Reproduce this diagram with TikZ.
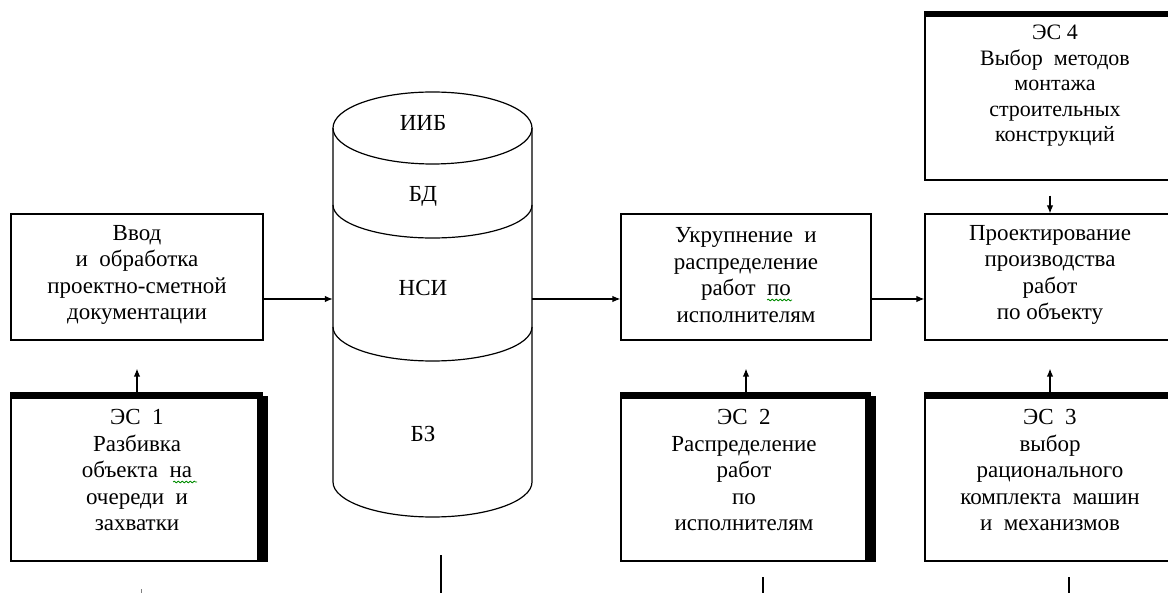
\documentclass[tikz,border=0pt]{standalone}
\usepackage{fontspec}
\setmainfont{Liberation Serif}
\usetikzlibrary{arrows.meta,decorations.pathmorphing}

\tikzset{
  box/.style={draw, line width=1.2pt, rectangle, inner sep=0pt},
  ghost/.style={rectangle, inner sep=0pt},
  txt/.style={align=center, inner sep=0pt, font=\fontsize{23}{26.5}\selectfont},
  lbl/.style={inner sep=0pt, font=\fontsize{23}{26}\selectfont},
  ln/.style={line width=1.2pt},
  arr/.style={line width=1.2pt, -{Latex[length=8pt,width=6.5pt]}},
  wavy/.style={draw=green!55!black, line width=0.8pt, decorate,
    decoration={snake, amplitude=0.9pt, segment length=4pt}},
}

\begin{document}
\begin{tikzpicture}[x=1pt,y=-1pt]
\useasboundingbox (0,0) rectangle (1168,593);
\fill[white] (0,0) rectangle (1168,593);
\clip (0,0) rectangle (1168,593);

% ---- process boxes ----
\node[box, minimum width=252pt, minimum height=126pt] (vvod) at (137,277) {};
\node[box, minimum width=250pt, minimum height=126pt] (ukr)  at (746,277) {};
\node[box, minimum width=250pt, minimum height=126pt] (proj) at (1050,277) {};

% ---- expert systems ----
\node[box, minimum width=247pt, minimum height=168pt] (es1) at (134.5,477) {};
\node[box, minimum width=245pt, minimum height=168pt] (es2) at (743.5,477) {};
\node[box, minimum width=245pt, minimum height=168pt] (es3) at (1047.5,477) {};
\node[box, minimum width=245pt, minimum height=168pt] (es4) at (1047.5,96) {};

% heavy top and right edges of the expert-system boxes
\foreach \e in {es1,es2,es3}{
  \fill (\e.north west) rectangle ([xshift=4pt,yshift=-7pt]\e.north east);
  \fill ([yshift=-4pt]\e.north east) rectangle ([xshift=9pt]\e.south east);
}
\fill (es4.north west) rectangle ([xshift=4pt,yshift=-6pt]es4.north east);

% ---- database cylinder ----
\node[ghost, minimum width=199pt, minimum height=424pt] (db) at (432.5,305) {};
\draw[ln] (432.5,128) ellipse [x radius=99.5pt, y radius=36pt];
\draw[ln] (333,128) -- (333,482)
  arc[start angle=180, end angle=360, x radius=99.5pt, y radius=35pt]
  -- (532,128);
\draw[ln] (333,205) arc[start angle=180, end angle=360, x radius=99.5pt, y radius=33pt];
\draw[ln] (333,327) arc[start angle=180, end angle=360, x radius=99.5pt, y radius=34pt];

\node[lbl] (iib) at (423,123) {ИИБ};
\node[lbl] (bd)  at (423,196) {БД};
\node[lbl] (nsi) at (423,288) {НСИ};
\node[lbl] (bz)  at (423,434) {БЗ};

% ---- texts ----
\node[txt] (vvodt) at (137,275) {Ввод\\и~ обработка\\проектно-сметной\\документации};
\node[txt] (ukrt)  at (746,275) {Укрупнение~ и\\распределение\\работ~ по\\исполнителям};
\node[txt] (projt) at (1050,275) {Проектирование\\производства\\работ\\по объекту};
\node[txt] (es1t)  at (137,470) {ЭС~ 1\\Разбивка\\объекта~ на\\очереди~ и\\захватки};
\node[txt] (es2t)  at (744,470) {ЭС~ 2\\Распределение\\работ\\по\\исполнителям};
\node[txt] (es3t)  at (1050,470) {ЭС~ 3\\выбор\\рационального\\комплекта~ машин\\и~ механизмов};
\node[txt, font=\fontsize{22}{25.5}\selectfont] (es4t) at (1055,86)
  {ЭС 4\\Выбор~ методов\\монтажа\\строительных\\конструкций};

% spell-check marks
\draw[wavy] (173,482) -- (197,482);
\draw[wavy] (767,300) -- (792,300);

% ---- main flow ----
\coordinate (flow) at ([yshift=-22pt]vvod.east);
\draw[arr] (flow) -- (flow -| db.west);
\draw[arr] (flow -| db.east) -- (flow -| ukr.west);
\draw[arr] (flow -| ukr.east) -- (flow -| proj.west);

% ---- expert systems feeding the stages ----
\draw[arr] (vvod.south |- es1.north) -- ([yshift=-28pt]vvod.south);
\draw[arr] (ukr.south |- es2.north) -- ([yshift=-28pt]ukr.south);
\draw[arr] (proj.south |- es3.north) -- ([yshift=-28pt]proj.south);
\draw[arr] ([yshift=-15pt]es4.south -| proj.north) -- (proj.north);

% ---- lines leaving at the bottom ----
\coordinate (d1a) at (441,555); \coordinate (d1b) at (441,593);
\coordinate (d2a) at (763,577); \coordinate (d2b) at (763,593);
\coordinate (d3a) at (1069,577); \coordinate (d3b) at (1069,593);
\coordinate (d0a) at (141,589); \coordinate (d0b) at (141,593);
\draw[ln] (d1a) -- (d1b);
\draw[ln] (d2a) -- (d2b);
\draw[ln] (d3a) -- (d3b);
\draw[line width=0.6pt, black!50] (d0a) -- (d0b);
\end{tikzpicture}
\end{document}
